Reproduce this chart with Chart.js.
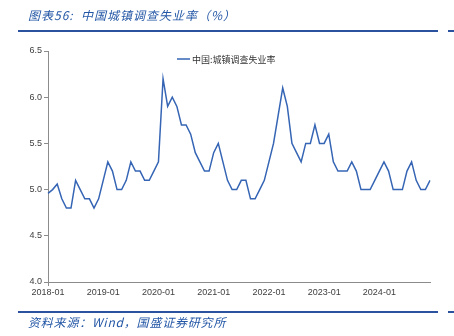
<!DOCTYPE html>
<html>
<head>
<meta charset="utf-8">
<script src="https://cdn.jsdelivr.net/npm/chart.js@4"></script>
<style>
  body { margin: 0; background: #fff; }
  #wrap { position: relative; width: 454px; height: 336px; overflow: hidden; }
  #graph { position: absolute; left: 0; top: 0; }
  .cap { position: absolute; left: 28px; font-family: "Noto Sans CJK SC", sans-serif; font-style: italic;
         font-size: 12px; color: #2457a6; white-space: nowrap; line-height: 14px; }
  .rule { position: absolute; height: 2px; background: #2a529f; }
</style>
</head>
<body>
<div id="wrap">
  <canvas id="graph" width="454" height="336"></canvas>
  <div class="cap" style="top:8px; letter-spacing:1px;">图表56:&nbsp; 中国城镇调查失业率（%）</div>
  <div class="rule" style="left:18px; top:30px; width:420px;"></div>
  <div class="rule" style="left:448px; top:30px; width:6px;"></div>
  <div class="rule" style="left:18px; top:311px; width:420px;"></div>
  <div class="rule" style="left:448px; top:311px; width:6px;"></div>
  <div class="cap" style="top:315px; letter-spacing:0.8px;">资料来源：Wind，国盛证券研究所</div>
</div>
<script>
const years = ["2018", "2019", "2020", "2021", "2022", "2023", "2024"];
const yearTicks = ["2018-01", "2019-01", "2020-01", "2021-01", "2022-01", "2023-01", "2024-01"];

// monthly surveyed urban unemployment rate, %
const rate2018 = [4.96, 5.0, 5.06, 4.9, 4.8, 4.8, 5.1, 5.0, 4.9, 4.9, 4.8, 4.9];
const rate2019 = [5.1, 5.3, 5.2, 5.0, 5.0, 5.1, 5.3, 5.2, 5.2, 5.1, 5.1, 5.2];
const rate2020 = [5.3, 6.2, 5.9, 6.0, 5.9, 5.7, 5.7, 5.6, 5.4, 5.3, 5.2, 5.2];
const rate2021 = [5.4, 5.5, 5.3, 5.1, 5.0, 5.0, 5.1, 5.1, 4.9, 4.9, 5.0, 5.1];
const rate2022 = [5.3, 5.5, 5.8, 6.1, 5.9, 5.5, 5.4, 5.3, 5.5, 5.5, 5.7, 5.5];
const rate2023 = [5.5, 5.6, 5.3, 5.2, 5.2, 5.2, 5.3, 5.2, 5.0, 5.0, 5.0, 5.1];
const rate2024 = [5.2, 5.3, 5.2, 5.0, 5.0, 5.0, 5.2, 5.3, 5.1, 5.0, 5.0, 5.1];

const seriesName = "中国:城镇调查失业率";

const labels = [];
years.forEach(y => {
  for (let m = 1; m <= 12; m++) labels.push(y + "-" + String(m).padStart(2, "0"));
});
const values = [].concat(rate2018, rate2019, rate2020, rate2021, rate2022, rate2023, rate2024);

const lineColor = "#3565b4";
const axisColor = "#8c8c8c";
const tickFont = { family: "Liberation Sans, Arial, sans-serif", size: 9 };

// legend sits inside the plot area, drawn by hand
const insideLegend = {
  id: "insideLegend",
  afterDraw(chart) {
    const { ctx, chartArea } = chart;
    const x = chartArea.left + 129;
    const y = chartArea.top + 8;
    ctx.save();
    ctx.strokeStyle = lineColor;
    ctx.lineWidth = 1.5;
    ctx.beginPath();
    ctx.moveTo(x, y);
    ctx.lineTo(x + 13, y);
    ctx.stroke();
    ctx.fillStyle = "#333";
    ctx.font = "9px 'Noto Sans CJK SC', sans-serif";
    ctx.textBaseline = "middle";
    ctx.fillText(chart.data.datasets[0].label, x + 15, y + 0.5);
    ctx.restore();
  }
};

new Chart(document.getElementById("graph").getContext("2d"), {
  type: "line",
  data: {
    labels: labels,
    datasets: [{
      label: seriesName,
      data: values,
      borderColor: lineColor,
      borderWidth: 1.5,
      pointRadius: 0,
      fill: false,
      tension: 0
    }]
  },
  options: {
    responsive: false,
    animation: false,
    layout: { padding: { left: 18, right: 24, top: 51, bottom: 34 } },
    plugins: { legend: { display: false }, tooltip: { enabled: false } },
    scales: {
      x: {
        type: "category",
        offset: false,
        grid: { display: true, drawOnChartArea: false, tickLength: 4,
                tickColor: c => (c.index === 0 ? axisColor : "transparent") },
        border: { color: axisColor, width: 1 },
        ticks: {
          autoSkip: false,
          maxRotation: 0,
          font: tickFont,
          color: "#404040",
          padding: 1,
          callback: function (v, i) {
            const l = this.getLabelForValue(v);
            return yearTicks.includes(l) ? l : "";
          }
        },
        afterFit: s => { s.height = 20; }
      },
      y: {
        min: 4,
        max: 6.5,
        grid: { display: true, drawOnChartArea: false, tickLength: 4, tickColor: axisColor },
        border: { color: axisColor, width: 1 },
        ticks: {
          stepSize: 0.5,
          font: tickFont,
          color: "#404040",
          padding: 2,
          callback: v => v.toFixed(1)
        },
        afterFit: s => { s.width = 30; }
      }
    }
  },
  plugins: [insideLegend]
});
</script>
</body>
</html>
